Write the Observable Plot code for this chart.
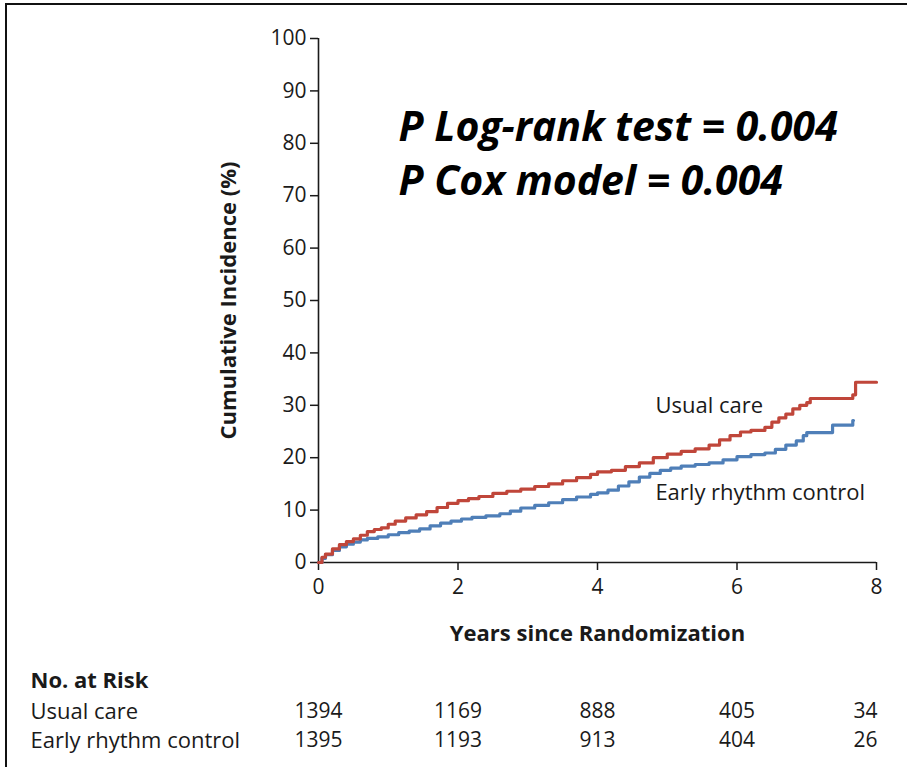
<!DOCTYPE html>
<html>
<head>
<meta charset="utf-8">
<script src="https://cdn.jsdelivr.net/npm/d3@7"></script>
<script src="https://cdn.jsdelivr.net/npm/@observablehq/plot@0.6"></script>
<style>
  body { margin: 0; background: #fff; }
  #wrap { position: relative; width: 907px; height: 767px; overflow: hidden; background: #fff; font-family: "Open Sans", sans-serif; color: #1a1a1a; }
  #main { position: absolute; left: 0; top: 0; }
  #risk { position: absolute; left: 0; top: 662px; }
  #frame { position: absolute; left: 5px; top: 3px; right: -10px; bottom: -10px; border-top: 2px solid #111; border-left: 2px solid #111; pointer-events: none; }
  svg { overflow: visible; }
</style>
</head>
<body>
<div id="wrap"><div id="main"></div><div id="risk"></div><div id="frame"></div></div>
<script>
// ---- data ----
const usualYears  = [0, 0.05, 0.1, 0.2, 0.3, 0.4, 0.5, 0.6, 0.7, 0.8, 0.9, 1.0, 1.1, 1.25, 1.4, 1.55, 1.7, 1.85, 2.0, 2.15, 2.3, 2.5, 2.7, 2.9, 3.1, 3.3, 3.5, 3.7, 3.9, 4.0, 4.2, 4.4, 4.6, 4.8, 5.0, 5.2, 5.4, 5.6, 5.75, 5.9, 6.05, 6.2, 6.4, 6.5, 6.6, 6.7, 6.8, 6.9, 7.0, 7.05, 7.66, 7.7, 8.0];
const usualValues = [0, 1.0, 1.6, 2.6, 3.4, 4.0, 4.5, 5.2, 5.9, 6.3, 6.6, 7.3, 7.9, 8.5, 9.1, 9.7, 10.5, 11.3, 11.8, 12.2, 12.6, 13.2, 13.6, 14.0, 14.5, 15.0, 15.6, 16.2, 16.8, 17.3, 17.6, 18.3, 19.0, 20.0, 20.7, 21.2, 21.7, 22.4, 23.4, 24.2, 24.9, 25.2, 25.8, 26.8, 27.6, 28.3, 29.3, 30.0, 30.5, 31.3, 32.0, 34.4, 34.4];

const earlyYears  = [0, 0.05, 0.1, 0.2, 0.3, 0.4, 0.5, 0.6, 0.7, 0.85, 1.0, 1.15, 1.3, 1.45, 1.6, 1.75, 1.9, 2.05, 2.2, 2.4, 2.6, 2.75, 2.9, 3.1, 3.3, 3.5, 3.7, 3.9, 4.0, 4.15, 4.3, 4.45, 4.6, 4.75, 4.9, 5.05, 5.2, 5.4, 5.6, 5.8, 6.0, 6.2, 6.4, 6.55, 6.7, 6.85, 6.95, 7.0, 7.37, 7.66, 7.67];
const earlyValues = [0, 0.8, 1.5, 2.3, 3.0, 3.5, 3.9, 4.3, 4.6, 4.9, 5.3, 5.7, 6.0, 6.4, 7.0, 7.5, 7.9, 8.3, 8.6, 8.9, 9.3, 9.8, 10.4, 10.9, 11.4, 12.0, 12.5, 13.0, 13.3, 13.8, 14.6, 15.4, 16.3, 17.0, 17.6, 18.0, 18.4, 18.7, 19.0, 19.6, 20.2, 20.6, 20.9, 21.6, 22.4, 23.2, 24.2, 24.8, 26.2, 27.1, 27.1];

const seriesNames = ["Usual care", "Early rhythm control"];
const xTicks = [0, 2, 4, 6, 8];
const yTicks = [0, 10, 20, 30, 40, 50, 60, 70, 80, 90, 100];
const xLabel = "Years since Randomization";
const yLabel = "Cumulative Incidence (%)";
const pLines = ["P Log-rank test = 0.004", "P Cox model = 0.004"];

const riskTitle = "No. at Risk";
const riskYears = [0, 2, 4, 6, 8];
const riskUsual = [1394, 1169, 888, 405, 34];
const riskEarly = [1395, 1193, 913, 404, 26];

// ---- build tables ----
const usual = usualYears.map((x, i) => ({year: x, value: usualValues[i]}));
const early = earlyYears.map((x, i) => ({year: x, value: earlyValues[i]}));
const riskRows = [
  ...riskYears.map((x, i) => ({year: x, group: seriesNames[0], n: riskUsual[i]})),
  ...riskYears.map((x, i) => ({year: x, group: seriesNames[1], n: riskEarly[i]}))
];

const RED = "#c0463a";
const BLUE = "#4f7fb8";
const INK = "#1a1a1a";
const W = 907, ML = 318, MR = 31;

const main = Plot.plot({
  width: W, height: 650,
  marginTop: 38, marginBottom: 88, marginLeft: ML, marginRight: MR,
  style: {fontFamily: "'Open Sans', sans-serif", color: INK, background: "transparent"},
  x: {domain: [0, 8]},
  y: {domain: [0, 100]},
  marks: [
    Plot.axisY({ticks: yTicks, tickSize: 8, tickPadding: 4, fontSize: 21, label: null, stroke: INK, strokeWidth: 1.5}),
    Plot.axisX({ticks: xTicks, tickSize: 8, tickPadding: 9, fontSize: 21, label: null, stroke: INK, strokeWidth: 1.5}),
    Plot.ruleX([0], {stroke: INK, strokeWidth: 1.6}),
    Plot.ruleY([0], {stroke: INK, strokeWidth: 1.6}),
    Plot.line(early, {x: "year", y: "value", curve: "step-after", stroke: BLUE, strokeWidth: 3.2}),
    Plot.line(usual, {x: "year", y: "value", curve: "step-after", stroke: RED, strokeWidth: 3.2}),
    Plot.text([seriesNames[0]], {x: 4.83, y: 29.8, text: d => d, textAnchor: "start", fontSize: 22, fill: INK}),
    Plot.text([seriesNames[1]], {x: 4.83, y: 13.2, text: d => d, textAnchor: "start", fontSize: 22, fill: INK}),
    Plot.text([pLines.join("\n")], {frameAnchor: "top-left", text: d => d, textAnchor: "start", lineAnchor: "top", dx: 80, dy: 63, lineHeight: 1.34, fontSize: 41, fontWeight: "bold", fontStyle: "italic", fill: "#000"}),
    Plot.text([xLabel], {frameAnchor: "bottom", text: d => d, lineAnchor: "middle", textAnchor: "middle", dy: 71, fontSize: 22, fontWeight: "bold", fill: INK}),
    Plot.text([yLabel], {frameAnchor: "left", text: d => d, rotate: -90, textAnchor: "middle", lineAnchor: "middle", dx: -90, fontSize: 22, fontWeight: "bold", fill: INK})
  ]
});
document.getElementById("main").appendChild(main);

const risk = Plot.plot({
  width: W, height: 105,
  marginTop: 34, marginBottom: 12, marginLeft: ML, marginRight: MR,
  style: {fontFamily: "'Open Sans', sans-serif", color: INK, background: "transparent"},
  x: {domain: [0, 8], axis: null},
  y: {type: "point", domain: seriesNames, padding: 0.5, axis: null},
  marks: [
    Plot.text([riskTitle], {frameAnchor: "top-left", text: d => d, textAnchor: "start", lineAnchor: "middle", dx: -288, dy: -16, fontSize: 22, fontWeight: "bold", fill: INK}),
    Plot.text(seriesNames, {y: d => d, text: d => d, frameAnchor: "left", textAnchor: "start", dx: -288, fontSize: 22, fill: INK}),
    Plot.text(riskRows.filter(d => d.year < 8), {x: "year", y: "group", text: d => String(d.n), fontSize: 21, fill: INK}),
    Plot.text(riskRows.filter(d => d.year === 8), {x: "year", y: "group", text: d => String(d.n), textAnchor: "end", dx: 1, fontSize: 21, fill: INK})
  ]
});
document.getElementById("risk").appendChild(risk);
</script>
</body>
</html>
